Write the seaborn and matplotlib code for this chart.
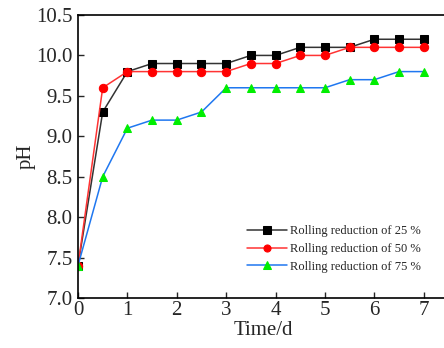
import matplotlib
matplotlib.use("Agg")
import matplotlib.pyplot as plt
import seaborn as sns
import pandas as pd

time_d = [0, 0.5, 1, 1.5, 2, 2.5, 3, 3.5, 4, 4.5, 5, 5.5, 6, 6.5, 7]
ph_25 = [7.4, 9.3, 9.8, 9.9, 9.9, 9.9, 9.9, 10.0, 10.0, 10.1, 10.1, 10.1, 10.2, 10.2, 10.2]
ph_50 = [7.4, 9.6, 9.8, 9.8, 9.8, 9.8, 9.8, 9.9, 9.9, 10.0, 10.0, 10.1, 10.1, 10.1, 10.1]
ph_75 = [7.4, 8.5, 9.1, 9.2, 9.2, 9.3, 9.6, 9.6, 9.6, 9.6, 9.6, 9.7, 9.7, 9.8, 9.8]
labels = ["Rolling reduction of 25 %", "Rolling reduction of 50 %", "Rolling reduction of 75 %"]

sns.set_style("ticks")
plt.rcParams['font.family'] = ['Liberation Serif', 'DejaVu Serif']
plt.rcParams['xtick.direction'] = 'in'
plt.rcParams['ytick.direction'] = 'in'

fig = plt.figure(figsize=(4.44, 3.48), dpi=100)
ax = fig.add_axes([78/444, 1 - 298/348, 1 - 78/444 + 0.01, (298 - 15)/348])

styles = [
    (ph_25, "#333333", "s", "black", labels[0]),
    (ph_50, "#ff3333", "o", "#ff0000", labels[1]),
    (ph_75, "#1f77f0", "^", "#00ee00", labels[2]),
]
for vals, lc, mk, mc, lab in styles:
    df = pd.DataFrame({"t": time_d, "ph": vals})
    sns.lineplot(data=df, x="t", y="ph", ax=ax, color=lc, marker=mk,
                 markerfacecolor=mc, markeredgecolor=mc, markersize=6,
                 linewidth=1.1, label=lab)

ax.set_xlim(0, 7.5)
ax.set_ylim(7.0, 10.5)
ax.set_xticks(range(0, 8))
ax.set_yticks([7.0, 7.5, 8.0, 8.5, 9.0, 9.5, 10.0, 10.5])
ax.set_yticklabels(["7.0", "7.5", "8.0", "8.5", "9.0", "9.5", "10.0", "10.5"])
ax.tick_params(axis='both', labelsize=15, length=4, width=1, top=False, right=False)
ax.tick_params(axis='x', pad=2)
ax.tick_params(axis='y', pad=4)
ax.set_xlabel("Time/d", fontsize=15, labelpad=1)
ax.set_ylabel("pH", fontsize=15, labelpad=0)
for s in ax.spines.values():
    s.set_linewidth(1.2)
    s.set_color("black")
ax.spines['right'].set_visible(False)

leg = ax.legend(loc="lower right", bbox_to_anchor=(0.955, 0.05), frameon=False,
                fontsize=9, handlelength=3.2, handletextpad=0.2, labelspacing=0.45,
                markerscale=0.85)

fig.savefig("out.png", dpi=100)
